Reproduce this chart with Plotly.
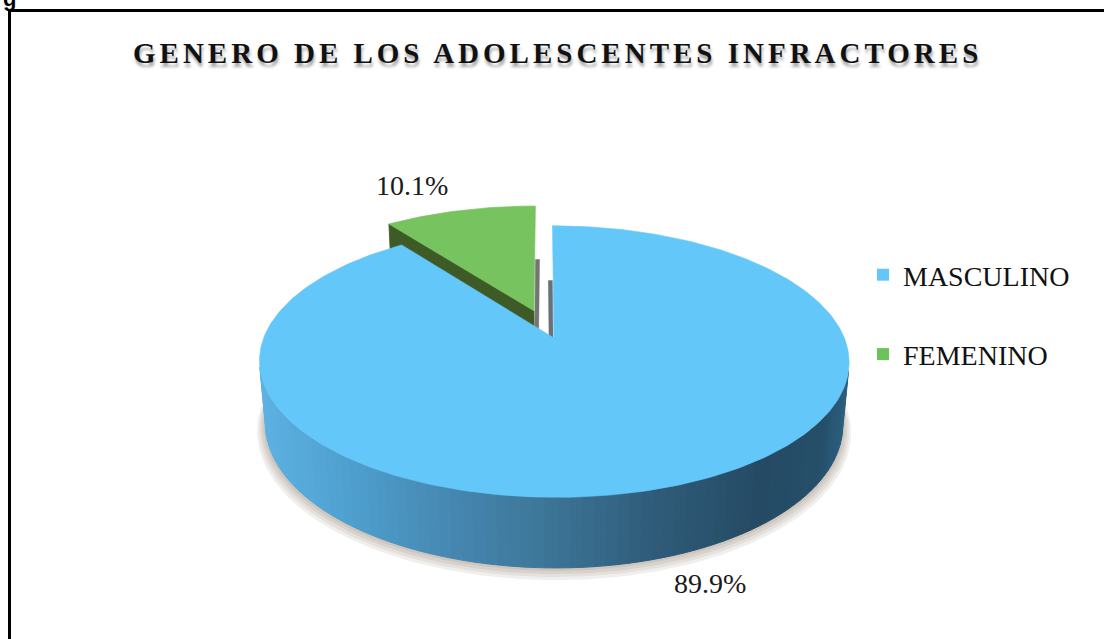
import numpy as np
import plotly.graph_objects as go

# ---------------- data ----------------
labels = ["MASCULINO", "FEMENINO"]
values = [89.9, 10.1]
pull = [0.0, 0.225]
top_colors = ["#63C7F9", "#77C360"]
legend_colors = ["#63C7F9", "#6CC35A"]
title_text = "GENERO DE LOS ADOLESCENTES INFRACTORES"

# ---------------- canvas ----------------
W, H = 1104, 639

# perspective camera for the tilted 3-D disc
F = 1521.0
SQUEEZE_X = 0.984
TILT = np.radians(26.5)
DIST = 5.76 * np.cos(TILT)
THICK = 0.239
CAM_X = -0.035
ORIGIN = (554.0, 338.0)
COS_T, SIN_T = np.cos(TILT), np.sin(TILT)
CAM_POS = np.array([CAM_X, DIST * SIN_T, -DIST * COS_T])
EDGE_STRIP = 4.0  # pixel width of the thin side faces on the 12 o'clock cut


def project(X, Yh, Z):
    X, Yh, Z = np.broadcast_arrays(np.asarray(X, float), np.asarray(Yh, float), np.asarray(Z, float))
    yc = Yh * COS_T + Z * SIN_T
    zc = DIST + Z * COS_T - Yh * SIN_T
    u = F * SQUEEZE_X * (X - CAM_X) / zc
    v = F * yc / zc
    u0 = F * SQUEEZE_X * (0 - CAM_X) / DIST
    return ORIGIN[0] + u - u0, ORIGIN[1] - v


def faces_camera(point, normal):
    return float(np.dot(CAM_POS - np.asarray(point), np.asarray(normal))) > 0


# side-wall shading of the big slice, keyed on screen x
wall_x = [262, 350, 450, 550, 650, 760, 820, 851]
wall_c = ["#5DB3E4", "#4FA0CF", "#4688B2", "#3D7597", "#305D7B", "#254B64", "#264F6A", "#2F6486"]


def hex_rgb(h):
    h = h.lstrip("#")
    return [int(h[i:i + 2], 16) for i in (0, 2, 4)]


wall_rgb = np.array([hex_rgb(c) for c in wall_c], float)


def wall_color(x):
    r, g, b = (np.interp(x, wall_x, wall_rgb[:, k]) for k in range(3))
    return f"rgb({int(r)},{int(g)},{int(b)})"


fig = go.Figure()


def poly(xs, ys, color, lw=0.8, opacity=1.0):
    xs = list(xs) + [xs[0]]
    ys = list(ys) + [ys[0]]
    fig.add_trace(go.Scatter(
        x=xs, y=ys, mode="lines", fill="toself", fillcolor=color,
        line=dict(color=color, width=lw), opacity=opacity,
        hoverinfo="skip", showlegend=False))


# slice angles: start at 12 o'clock, clockwise
total = sum(values)
slices = []
start = 90.0
for i, v in enumerate(values):
    sweep = v / total * 360.0
    a0, a1 = start, start - sweep
    mid = np.radians((a0 + a1) / 2)
    off = (pull[i] * np.cos(mid), pull[i] * np.sin(mid))
    slices.append(dict(a0=a0, a1=a1, mid=mid, off=off))
    start = a1

# soft shadow under the front half of the disc
ox, oz = slices[0]["off"]
t = np.radians(np.linspace(180, 360, 121))
for k in range(1, 5):
    sc = 1 + 0.007 * k
    sx, sy = project(ox + sc * np.cos(t), -THICK, oz + sc * np.sin(t))
    poly(sx, sy + 1.6 * k, "rgba(80,50,30,1)", lw=0, opacity=0.08)


def draw_slice(i):
    s = slices[i]
    ox, oz = s["off"]
    a0, a1 = s["a0"], s["a1"]

    # radial faces
    for ang, nrm in ((a0, a0 + 90), (a1, a1 - 90)):
        r = np.radians(ang)
        n = np.radians(nrm)
        cx, cz = ox + 0.5 * np.cos(r), oz + 0.5 * np.sin(r)
        if not faces_camera([cx, -THICK / 2, cz], [np.cos(n), 0, np.sin(n)]):
            continue
        vertical = abs(np.cos(r)) < 1e-6
        if vertical:
            # cut seen almost edge-on: a narrow band between rim-bottom and apex-bottom
            px, py = project([ox + np.cos(r), ox], [-THICK, -THICK], [oz + np.sin(r), oz])
            side = np.sign(np.cos(n))
            xs = [px[0], px[1], px[1] + side * EDGE_STRIP, px[0] + side * EDGE_STRIP]
            ys = [py[0], py[1], py[1], py[0]]
            poly(xs, ys, "#66717A" if i == 0 else "#727572", lw=0.5)
        else:
            X = [ox, ox + np.cos(r), ox + np.cos(r), ox]
            Y = [0, 0, -THICK, -THICK]
            Z = [oz, oz + np.sin(r), oz + np.sin(r), oz]
            px, py = project(X, Y, Z)
            poly(px, py, "#3E5A26" if i == 1 else "#2F6486")

    # outer wall, strip by strip
    angs = np.linspace(a0, a1, int(abs(a1 - a0) / 2) + 2)
    strips = []
    for k in range(len(angs) - 1):
        r0, r1 = np.radians(angs[k]), np.radians(angs[k + 1])
        rm = (r0 + r1) / 2
        pt = [ox + np.cos(rm), -THICK / 2, oz + np.sin(rm)]
        if not faces_camera(pt, [np.cos(rm), 0, np.sin(rm)]):
            continue
        X = [ox + np.cos(r0), ox + np.cos(r1), ox + np.cos(r1), ox + np.cos(r0)]
        Y = [0, 0, -THICK, -THICK]
        Z = [oz + np.sin(r0), oz + np.sin(r1), oz + np.sin(r1), oz + np.sin(r0)]
        px, py = project(X, Y, Z)
        strips.append((np.sin(rm), px, py))
    strips.sort(key=lambda q: -q[0])
    for _, px, py in strips:
        col = wall_color(float(np.mean(px))) if i == 0 else "#3E5A26"
        poly(px, py, col, lw=1.0)

    # top face
    arc = np.radians(np.linspace(a0, a1, int(abs(a1 - a0)) + 2))
    X = np.concatenate([[ox], ox + np.cos(arc)])
    Z = np.concatenate([[oz], oz + np.sin(arc)])
    px, py = project(X, 0, Z)
    poly(px, py, top_colors[i], lw=0.6)


# back slice first, then the large front slice
draw_slice(1)
draw_slice(0)

# legend entries
for name, col in zip(labels, legend_colors):
    fig.add_trace(go.Scatter(
        x=[None], y=[None], mode="markers", name=name, legendgroup=name,
        marker=dict(symbol="square", size=10, color=col)))

# percentage labels next to each slice
label_shift = [(48, 26), (-48, -25)]
label_h = [-THICK, 0.0]
annotations = []
for i, s in enumerate(slices):
    ox, oz = s["off"]
    lx, ly = project(ox + np.cos(s["mid"]), label_h[i], oz + np.sin(s["mid"]))
    pct = values[i] / total * 100
    annotations.append(dict(
        x=float(lx) + label_shift[i][0], y=float(ly) + label_shift[i][1],
        xref="x", yref="y", text=f"{pct:.1f}%", showarrow=False,
        font=dict(family="Liberation Serif", size=28, color="#1A1A1A")))

# chart title
annotations.append(dict(
    x=557, y=53, xref="x", yref="y", showarrow=False,
    text=f'<span style="letter-spacing:4px">{title_text}</span>',
    font=dict(family="Liberation Serif", size=29, color="#111111", weight="bold",
              shadow="1px 4px 3px rgba(0,0,0,0.35)")))

# caption fragment peeking above the frame
annotations.append(dict(
    x=9, y=1, xref="x", yref="paper", yanchor="bottom", yshift=-13, showarrow=False,
    text="g", font=dict(family="Liberation Sans", size=22, color="#000000", weight="bold")))

fig.update_layout(
    width=W, height=H, autosize=False,
    margin=dict(l=0, r=0, t=0, b=0),
    paper_bgcolor="white", plot_bgcolor="white",
    xaxis=dict(range=[0, W], visible=False, fixedrange=True),
    yaxis=dict(range=[H, 0], visible=False, fixedrange=True),
    showlegend=True,
    legend=dict(x=863 / W, xanchor="left", y=1 - 250 / H, yanchor="top",
                font=dict(family="Liberation Serif", size=28, color="#111111"),
                tracegroupgap=40, bgcolor="rgba(0,0,0,0)", itemsizing="constant"),
    annotations=annotations,
    shapes=[dict(type="rect", xref="x", yref="y", x0=9.5, y0=10.5, x1=W + 20, y1=H + 20,
                 line=dict(color="black", width=3), fillcolor="rgba(0,0,0,0)", layer="above")],
)

fig.write_html("out.html")
